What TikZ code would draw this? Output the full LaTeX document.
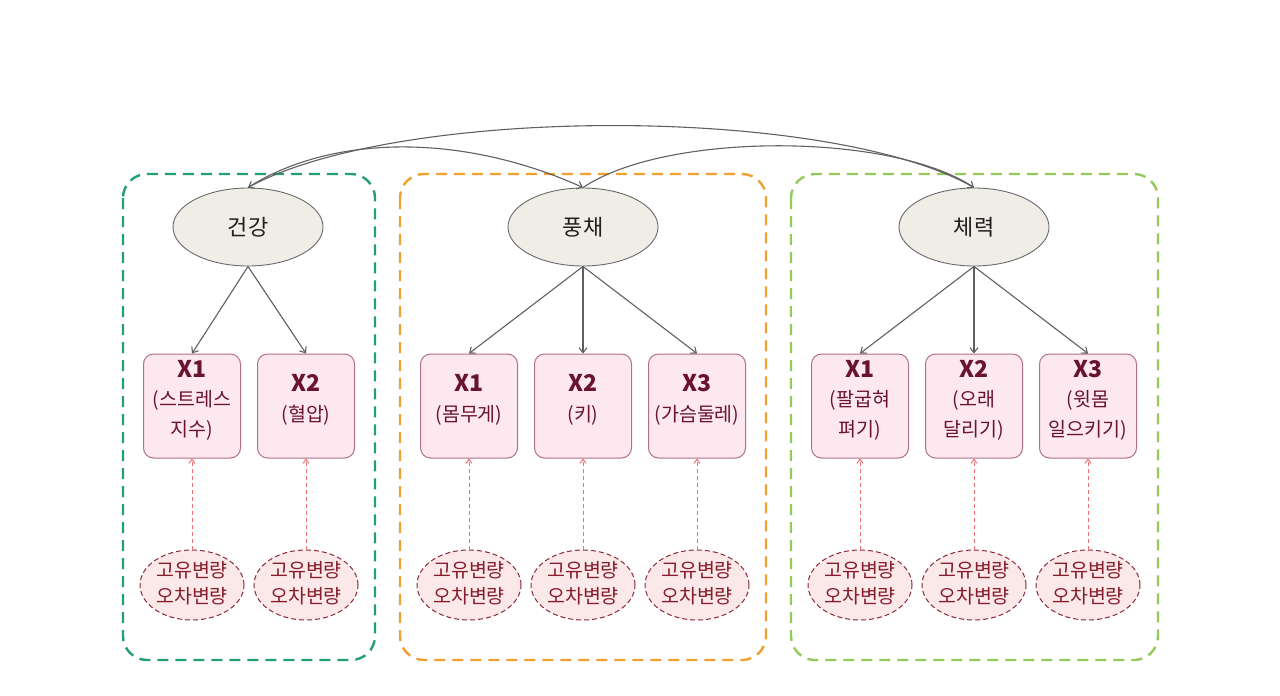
\documentclass[tikz,border=0pt]{standalone}
\usepackage{fontspec}
\setmainfont{Noto Sans CJK KR}
\usetikzlibrary{arrows.meta,shapes.geometric}
\definecolor{grpA}{HTML}{22A06E}
\definecolor{grpB}{HTML}{F0A030}
\definecolor{grpC}{HTML}{94C95C}
\definecolor{latfill}{HTML}{EFEDE6}
\definecolor{latline}{HTML}{6A6A6A}
\definecolor{obsfill}{HTML}{FCE8EE}
\definecolor{obsline}{HTML}{B07088}
\definecolor{obstext}{HTML}{6A1232}
\definecolor{errfill}{HTML}{FBE8E8}
\definecolor{errline}{HTML}{8C2A3A}
\definecolor{errtext}{HTML}{861C2C}
\definecolor{errarrow}{HTML}{EE7070}
\definecolor{edge}{HTML}{606060}
\begin{document}
\begin{tikzpicture}[x=1pt,y=-1pt,
  groupbox/.style={draw=#1,line width=2.4pt,dash pattern=on 11pt off 7pt,rounded corners=24pt},
  latent/.style={ellipse,draw=latline,fill=latfill,line width=0.9pt,minimum width=150pt,minimum height=78pt,inner sep=0pt,font=\fontsize{22}{26}\selectfont,text=black!88},
  obs/.style={rectangle,rounded corners=10pt,draw=obsline,fill=obsfill,line width=1pt,minimum width=97pt,minimum height=104pt,inner sep=0pt},
  obstxt/.style={align=center,text=obstext,inner sep=0pt,font=\fontsize{19.5}{29.5}\selectfont},
  err/.style={ellipse,draw=errline,fill=errfill,line width=1pt,dash pattern=on 5pt off 3pt,minimum width=104pt,minimum height=70pt,inner sep=0pt},
  errtxt/.style={align=center,text=errtext,inner sep=0pt,font=\fontsize{19.5}{26}\selectfont},
  load/.style={draw=edge,line width=1.1pt,-{Straight Barb[length=5pt,width=8pt]}},
  errarr/.style={draw=errarrow,line width=1pt,dash pattern=on 4pt off 3pt,-{Straight Barb[length=4pt,width=6pt]}},
  cov/.style={draw=edge,line width=1.1pt,-{Straight Barb[length=5pt,width=8pt]}}
]
\useasboundingbox (0,0) rectangle (1280,696);
\fill[white] (0,0) rectangle (1280,696);

\draw[groupbox=grpA] (123,174) rectangle (375,660);
\draw[groupbox=grpB] (400,174) rectangle (766,660);
\draw[groupbox=grpC] (791,174) rectangle (1158,660);

\node[latent] (L1) at (248,227) {건강};
\node[latent] (L2) at (583,227) {풍채};
\node[latent] (L3) at (974,227) {체력};

\newcommand{\xl}[1]{{\fontsize{23}{29.5}\selectfont\bfseries #1}}
\foreach \n/\x/\t in {A1/192/{\xl{X1}\\(스트레스\\지수)},
                      A2/306/{\xl{X2}\\(혈압)},
                      B1/469/{\xl{X1}\\(몸무게)},
                      B2/583/{\xl{X2}\\(키)},
                      B3/697/{\xl{X3}\\(가슴둘레)},
                      C1/860/{\xl{X1}\\(팔굽혀\\펴기)},
                      C2/974/{\xl{X2}\\(오래\\달리기)},
                      C3/1088/{\xl{X3}\\(윗몸\\일으키기)}}{
  \node[obs] (\n) at (\x,406) {};
  \node[obstxt] (\n t) at (\x,400) {\t};
}

\foreach \n/\x in {eA1/192,eA2/306,eB1/469,eB2/583,eB3/697,eC1/860,eC2/974,eC3/1088}{
  \node[err] (\n) at (\x,585) {};
  \node[errtxt] (\n t) at (\x,583) {고유변량\\오차변량};
}

\foreach \l/\o in {L1/A1,L1/A2,L2/B1,L2/B2,L2/B3,L3/C1,L3/C2,L3/C3}{
  \draw[load] (\l.south) -- (\o.north);
}
\foreach \n in {A1,A2,B1,B2,B3,C1,C2,C3}{
  \draw[errarr] (e\n.north) -- (\n.south);
}

\draw[cov] (L1.north) .. controls (330,135) and (460,132) .. (L2.north);
\draw[cov] (L2.north) .. controls (665,132) and (890,132) .. (L3.north);
\draw[cov] (L3.north) .. controls (830,105) and (400,105) .. (L1.north);
\end{tikzpicture}
\end{document}
